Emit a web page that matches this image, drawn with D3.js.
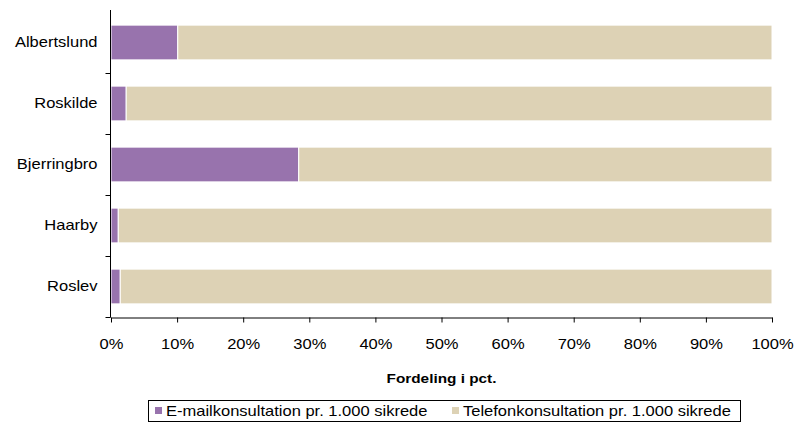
<!DOCTYPE html>
<html>
<head>
<meta charset="utf-8">
<script src="https://cdn.jsdelivr.net/npm/d3@7"></script>
<style>
  body { margin: 0; background: #fff; }
  svg { display: block; font-family: "Liberation Sans", Arial, sans-serif; }
</style>
</head>
<body>
<svg id="chart" width="796" height="429"></svg>
<script>
// Share of consultations per clinic (percent)
const categories = ["Albertslund", "Roskilde", "Bjerringbro", "Haarby", "Roslev"];
const emailShare = [10.1, 2.3, 28.4, 1.1, 1.4];
const phoneShare = emailShare.map(v => 100 - v);
const seriesNames = ["E-mailkonsultation pr. 1.000 sikrede", "Telefonkonsultation pr. 1.000 sikrede"];
const seriesColors = ["#9873ad", "#ddd2b5"];
const xTicks = [0, 10, 20, 30, 40, 50, 60, 70, 80, 90, 100];

const svg = d3.select("#chart");
const margin = { left: 111, right: 24, top: 12, bottom: 112 };
const width = 796, height = 429;
const stretchK = 1.18; // wide letterforms

// widen text horizontally around its anchor x
function stretch(sel) {
  sel.each(function () {
    const t = d3.select(this);
    const ax = +(t.attr("x") || 0);
    t.attr("transform", `translate(${ax},0) scale(${stretchK},1) translate(${-ax},0)`);
  });
}

const x = d3.scaleLinear().domain([0, 100]).range([margin.left, width - margin.right]);
const y = d3.scaleBand().domain(categories).range([margin.top, height - margin.bottom]).paddingInner(0.43).paddingOuter(0.215);

const rows = categories.map((c, i) => ({ cat: c, vals: [emailShare[i], phoneShare[i]] }));
const stack = d3.stack().keys([0, 1]).value((d, k) => d.vals[k]);
const layers = stack(rows);

svg.append("g").selectAll("g").data(layers).join("g")
  .attr("fill", (d, i) => seriesColors[i])
  .selectAll("rect").data(d => d).join("rect")
  .attr("x", d => x(d[0]))
  .attr("width", d => x(d[1]) - x(d[0]))
  .attr("y", d => y(d.data.cat))
  .attr("height", y.bandwidth())
  .attr("stroke", "#fff")
  .attr("stroke-width", 1);

// X axis
const xAxis = svg.append("g")
  .attr("transform", `translate(0,${height - margin.bottom + 0.5})`)
  .call(d3.axisBottom(x).tickValues(xTicks).tickFormat(d => d + "%").tickSize(5).tickSizeOuter(0));
xAxis.select(".domain").attr("stroke", "#000");
xAxis.selectAll("text").attr("font-size", 14).attr("fill", "#000").attr("y", 32).attr("dy", 0).call(stretch);

// Y axis with ticks at band boundaries
const yAxisG = svg.append("g").attr("transform", `translate(${margin.left - 0.5},0)`);
yAxisG.append("line")
  .attr("y1", margin.top - 2).attr("y2", height - margin.bottom + 0.5)
  .attr("stroke", "#000");
const step = y.step();
const bounds = d3.range(categories.length + 1).map(i => margin.top + i * step);
yAxisG.selectAll("line.tk").data(bounds.slice(1)).join("line")
  .attr("class", "tk")
  .attr("x1", -5).attr("x2", 0)
  .attr("y1", d => Math.round(d) + 0.5).attr("y2", d => Math.round(d) + 0.5)
  .attr("stroke", "#000");
yAxisG.selectAll("text").data(categories).join("text")
  .attr("x", -13)
  .attr("y", d => y(d) + y.bandwidth() / 2)
  .attr("dy", "0.35em")
  .attr("text-anchor", "end")
  .attr("font-size", 14)
  .text(d => d)
  .call(stretch);

// Axis title
svg.append("text")
  .attr("x", (x(0) + x(100)) / 2)
  .attr("y", 383)
  .attr("text-anchor", "middle")
  .attr("font-size", 13)
  .attr("font-weight", "bold")
  .text("Fordeling i pct.")
  .call(stretch);

// Legend
const lg = svg.append("g");
lg.append("rect")
  .attr("x", 148.5).attr("y", 400.5).attr("width", 592).attr("height", 21)
  .attr("fill", "#fff").attr("stroke", "#000");
const items = [{ x: 155 }, { x: 452 }];
items.forEach((it, i) => {
  lg.append("rect").attr("x", it.x).attr("y", 407).attr("width", 7).attr("height", 7).attr("fill", seriesColors[i]);
  lg.append("text").attr("x", it.x + 11).attr("y", 416).attr("font-size", 14).text(seriesNames[i]).call(stretch);
});
</script>
</body>
</html>
